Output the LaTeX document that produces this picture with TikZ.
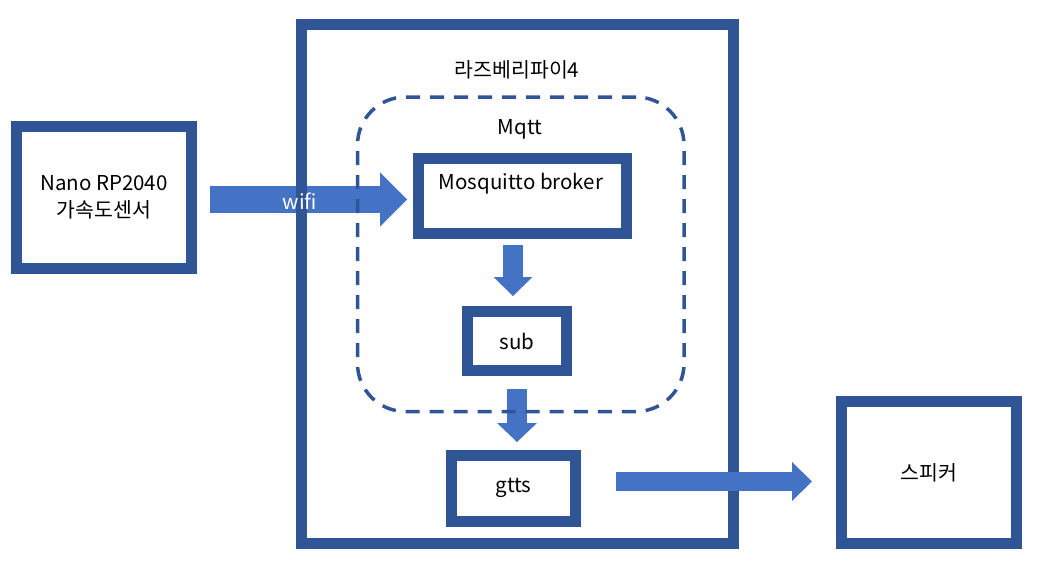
\documentclass[tikz,border=0pt]{standalone}
\usepackage{fontspec}
\setmainfont{Noto Sans CJK KR}
\usetikzlibrary{arrows.meta, backgrounds}
\definecolor{frameblue}{HTML}{2F5597}
\definecolor{arrowblue}{HTML}{4472C4}

\begin{document}
\begin{tikzpicture}[x=1pt,y=-1pt,
    frame/.style={draw=frameblue,line width=11pt,inner sep=0pt},
    dashbox/.style={draw=frameblue,line width=3.5pt,dash pattern=on 14pt off 10pt,rounded corners=48pt},
    txt/.style={font=\fontsize{20.5}{27}\selectfont,text=black,inner sep=0pt},
    blockarrow/.style n args={3}{draw=arrowblue,line width=#1,-{Triangle[length=#2,width=#3,line width=0pt]}}]

        \useasboundingbox (0,0) rectangle (1044,578);

        % boxes
        \node[frame,txt,align=center,minimum width=175pt,minimum height=142pt] (nano) at (104,197.5) {Nano RP2040\\가속도센서};

        \node[frame,minimum width=432pt,minimum height=519pt] (pi) at (517.5,284) {};
        \node[txt] (pititle) at (517,70) {라즈베리파이4};

        \node[dashbox,minimum width=326.5pt,minimum height=314.5pt] (mqtt) at (520.75,254.25) {};
        \node[txt] (mqtttitle) at (520,129) {Mqtt};

        \node[frame,minimum width=208pt,minimum height=75pt] (broker) at (522.5,196) {};
        \node[txt] (brokertitle) at (521,184) {Mosquitto broker};

        \node[frame,txt,minimum width=99pt,minimum height=59pt] (sub) at (517,341) {sub};

        \node[frame,txt,minimum width=124pt,minimum height=66pt] (gtts) at (513.5,488) {gtts};

        \node[frame,txt,minimum width=175pt,minimum height=142pt] (speaker) at (929,472.5) {스피커};

        % arrow ends
        \coordinate (wifiA) at (210,199.5);
        \coordinate (wifiB) at (407,199.5);
        \coordinate (subA) at (513,245);
        \coordinate (subB) at (513,296);
        \coordinate (gttsA) at (517,389);
        \coordinate (gttsB) at (517,442);
        \coordinate (spkA) at (616,481.5);
        \coordinate (spkB) at (812,481.5);

        \begin{scope}[on background layer]
            \draw[blockarrow={27pt}{27pt}{54pt}] (wifiA) -- (wifiB);
            \draw[blockarrow={20pt}{19pt}{39pt}] (subA) -- (subB);
            \draw[blockarrow={20pt}{19pt}{40pt}] (gttsA) -- (gttsB);
        \end{scope}

        \draw[blockarrow={19pt}{20pt}{39pt}] (spkA) -- (spkB);

        \node[txt,text=white] (wifilabel) at (300,201) {wifi};
    \end{tikzpicture}
\end{document}
